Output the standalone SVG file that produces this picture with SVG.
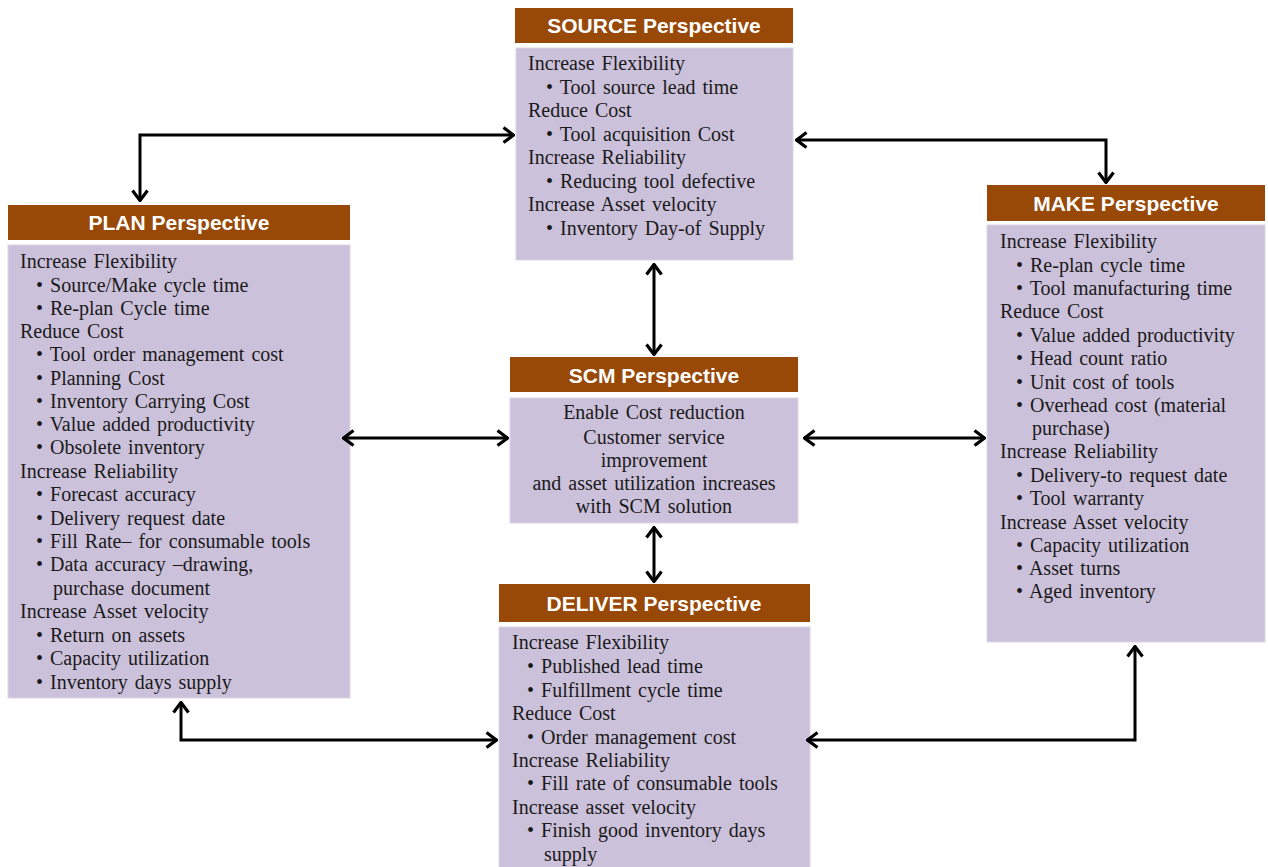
<svg xmlns="http://www.w3.org/2000/svg" width="1268" height="867" viewBox="0 0 1268 867">
  <style>
    .hdr { fill: #984807; }
    .body { fill: #ccc1da; stroke: #ddd5e6; stroke-width: 1; }
    .ht { font-family: "Liberation Sans", Arial, sans-serif; font-weight: bold; font-size: 21px; fill: #ffffff; text-anchor: middle; }
    .t { font-family: "Liberation Serif", "Times New Roman", serif; font-size: 20px; fill: #1a1a1a; word-spacing: 2px; }
    .c { text-anchor: middle; }
    .conn { fill: none; stroke: #000; stroke-width: 3; marker-start: url(#arr); marker-end: url(#arr); }
  </style>
  <defs>
    <marker id="arr" viewBox="0 0 13 18" refX="12" refY="9" markerWidth="13" markerHeight="18" markerUnits="userSpaceOnUse" orient="auto-start-reverse">
      <path d="M1.5,1.5 L11.5,9 L1.5,16.5" fill="none" stroke="#000" stroke-width="3.2" stroke-linejoin="miter"/>
    </marker>
  </defs>
  <rect width="1268" height="867" fill="#ffffff"/>

  <!-- SOURCE -->
  <g id="source">
    <rect class="hdr" x="515" y="8" width="278" height="35"/>
    <text class="ht" x="654" y="33">SOURCE Perspective</text>
    <rect class="body" x="516" y="48" width="277" height="212"/>
    <text class="t" x="528" y="70">Increase Flexibility</text>
    <text class="t" x="546" y="94">• Tool  source lead time</text>
    <text class="t" x="528" y="117">Reduce Cost</text>
    <text class="t" x="546" y="141">• Tool acquisition  Cost</text>
    <text class="t" x="528" y="164">Increase Reliability</text>
    <text class="t" x="546" y="188">• Reducing  tool defective</text>
    <text class="t" x="528" y="211">Increase Asset velocity</text>
    <text class="t" x="546" y="235">• Inventory  Day-of  Supply</text>
  </g>

  <!-- PLAN -->
  <g id="plan">
    <rect class="hdr" x="8" y="205" width="342" height="35"/>
    <text class="ht" x="179" y="230">PLAN Perspective</text>
    <rect class="body" x="8" y="245" width="342" height="453"/>
    <text class="t" x="20" y="268">Increase  Flexibility</text>
    <text class="t" x="36" y="292">• Source/Make  cycle  time</text>
    <text class="t" x="36" y="315">• Re-plan  Cycle  time</text>
    <text class="t" x="20" y="338">Reduce  Cost</text>
    <text class="t" x="36" y="361">• Tool order management  cost</text>
    <text class="t" x="36" y="385">• Planning  Cost</text>
    <text class="t" x="36" y="408">• Inventory  Carrying  Cost</text>
    <text class="t" x="36" y="431">• Value  added productivity</text>
    <text class="t" x="36" y="454">• Obsolete inventory</text>
    <text class="t" x="20" y="478">Increase Reliability</text>
    <text class="t" x="36" y="501">• Forecast accuracy</text>
    <text class="t" x="36" y="525">• Delivery  request  date</text>
    <text class="t" x="36" y="548">• Fill  Rate– for consumable  tools</text>
    <text class="t" x="36" y="571">• Data accuracy –drawing,</text>
    <text class="t" x="53" y="595">purchase  document</text>
    <text class="t" x="20" y="618">Increase Asset velocity</text>
    <text class="t" x="36" y="642">• Return  on assets</text>
    <text class="t" x="36" y="665">• Capacity  utilization</text>
    <text class="t" x="36" y="689">• Inventory  days supply</text>
  </g>

  <!-- MAKE -->
  <g id="make">
    <rect class="hdr" x="987" y="185" width="278" height="36"/>
    <text class="ht" x="1126" y="211">MAKE Perspective</text>
    <rect class="body" x="987" y="225" width="278" height="417"/>
    <text class="t" x="1000" y="248">Increase Flexibility</text>
    <text class="t" x="1016" y="272">• Re-plan  cycle  time</text>
    <text class="t" x="1016" y="295">• Tool manufacturing  time</text>
    <text class="t" x="1000" y="318">Reduce Cost</text>
    <text class="t" x="1016" y="342">• Value  added productivity</text>
    <text class="t" x="1016" y="365">• Head count ratio</text>
    <text class="t" x="1016" y="389">• Unit  cost of tools</text>
    <text class="t" x="1016" y="412">• Overhead  cost (material</text>
    <text class="t" x="1032" y="435">purchase)</text>
    <text class="t" x="1000" y="458">Increase Reliability</text>
    <text class="t" x="1016" y="482">• Delivery-to  request  date</text>
    <text class="t" x="1016" y="505">• Tool  warranty</text>
    <text class="t" x="1000" y="529">Increase Asset velocity</text>
    <text class="t" x="1016" y="552">• Capacity  utilization</text>
    <text class="t" x="1016" y="575">• Asset turns</text>
    <text class="t" x="1016" y="598">• Aged inventory</text>
  </g>

  <!-- SCM -->
  <g id="scm">
    <rect class="hdr" x="510" y="357" width="288" height="35"/>
    <text class="ht" x="654" y="383">SCM Perspective</text>
    <rect class="body" x="510" y="398" width="288" height="125"/>
    <text class="t c" x="654" y="419">Enable  Cost  reduction</text>
    <text class="t c" x="654" y="444">Customer  service</text>
    <text class="t c" x="654" y="467">improvement</text>
    <text class="t c" x="654" y="490">and asset utilization  increases</text>
    <text class="t c" x="654" y="513">with  SCM solution</text>
  </g>

  <!-- DELIVER -->
  <g id="deliver">
    <rect class="hdr" x="499" y="584" width="311" height="38"/>
    <text class="ht" x="654" y="611">DELIVER Perspective</text>
    <rect class="body" x="499" y="627" width="311" height="245"/>
    <text class="t" x="512" y="649">Increase Flexibility</text>
    <text class="t" x="527" y="673">• Published  lead  time</text>
    <text class="t" x="527" y="697">• Fulfillment  cycle  time</text>
    <text class="t" x="512" y="720">Reduce Cost</text>
    <text class="t" x="527" y="744">• Order management  cost</text>
    <text class="t" x="512" y="767">Increase Reliability</text>
    <text class="t" x="527" y="790">• Fill  rate of consumable  tools</text>
    <text class="t" x="512" y="814">Increase  asset velocity</text>
    <text class="t" x="527" y="837">• Finish  good inventory  days</text>
    <text class="t" x="544" y="861">supply</text>
  </g>

  <!-- two-way connectors, drawn over the boxes -->
  <g id="connectors">
    <path class="conn" d="M140,201 L140,135 L514,135"/>
    <path class="conn" d="M796,140 L1106,140 L1106,183"/>
    <path class="conn" d="M654,264 L654,355"/>
    <path class="conn" d="M343,438 L508,438"/>
    <path class="conn" d="M804,438 L985,438"/>
    <path class="conn" d="M654,527 L654,582"/>
    <path class="conn" d="M181,702 L181,740 L497,740"/>
    <path class="conn" d="M1135,646 L1135,740 L807,740"/>
  </g>
</svg>
